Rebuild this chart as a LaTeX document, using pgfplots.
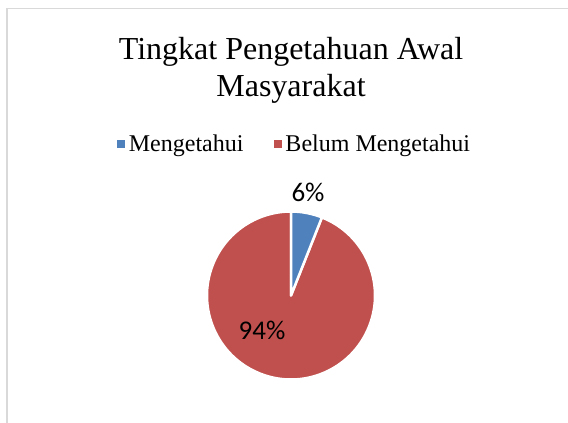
\documentclass[border=0pt]{standalone}
\usepackage{pgfplots}
\usepackage{pgfplotstable}
\pgfplotsset{compat=1.18}
\usepackage{fontspec}
\setmainfont{Liberation Serif}
\newfontfamily\labfont{Carlito}
\definecolor{mblue}{HTML}{4F81BD}
\definecolor{mred}{HTML}{C0504D}
\definecolor{frame}{HTML}{D9D9D9}
\pgfplotsset{sqlegend/.style={legend image code/.code={\fill[#1] (0bp,-4bp) rectangle (8bp,4bp);}}}

\pgfplotstableread{
label value
Mengetahui 6
Belum 94
}\piedata

\begin{document}
\begin{tikzpicture}
\pgfplotstablegetelem{0}{value}\of\piedata
\pgfmathsetmacro\valA{\pgfplotsretval}
\pgfplotstablegetelem{1}{value}\of\piedata
\pgfmathsetmacro\valB{\pgfplotsretval}
\pgfmathsetmacro\angA{90-3.6*\valA}
\pgfmathsetmacro\angB{\angA-3.6*\valB}
\fill[white] (0,0) rectangle (568bp,423bp);
\begin{axis}[
  x=1bp, y=1bp,
  xmin=0, xmax=568, ymin=0, ymax=423,
  scale only axis, hide axis, clip=false,
  anchor=origin, at={(0,0)},
  legend columns=2,
  legend style={at={(axis cs:295.5,279)}, anchor=center, draw=none, fill=none,
    font=\fontsize{24bp}{28bp}\selectfont,
    /tikz/every even column/.append style={column sep=26bp},
    nodes={inner xsep=4bp}},
]
\draw[frame, line width=1.5bp] (axis cs:7,0) -- (axis cs:7,414.5) -- (axis cs:568,414.5);
\addlegendimage{fill=mblue, draw=none, sqlegend}
\addlegendentry{Mengetahui}
\addlegendimage{fill=mred, draw=none, sqlegend}
\addlegendentry{Belum Mengetahui}
\filldraw[fill=mred, draw=white, line width=2.5bp, line join=round]
  (axis cs:291,127.5) -- ++(\angA:84bp) arc[start angle=\angA, end angle=\angB, radius=84bp] -- cycle;
\filldraw[fill=mblue, draw=white, line width=2.5bp, line join=round]
  (axis cs:291,127.5) -- ++(90:84bp) arc[start angle=90, end angle=\angA, radius=84bp] -- cycle;
\node[anchor=base, font=\fontsize{32bp}{38bp}\selectfont] at (axis cs:291,364) {Tingkat Pengetahuan Awal};
\node[anchor=base, font=\fontsize{32bp}{38bp}\selectfont] at (axis cs:291,327) {Masyarakat};
\node[anchor=base, font=\labfont\fontsize{27bp}{32bp}\selectfont] at (axis cs:308,222) {\pgfmathprintnumber[assume math mode=true]{\valA}\%};
\node[anchor=base, font=\labfont\fontsize{27bp}{32bp}\selectfont] at (axis cs:262,84) {\pgfmathprintnumber[assume math mode=true]{\valB}\%};
\end{axis}
\pgfresetboundingbox
\useasboundingbox (0,0) rectangle (568bp,423bp);
\end{tikzpicture}
\end{document}
